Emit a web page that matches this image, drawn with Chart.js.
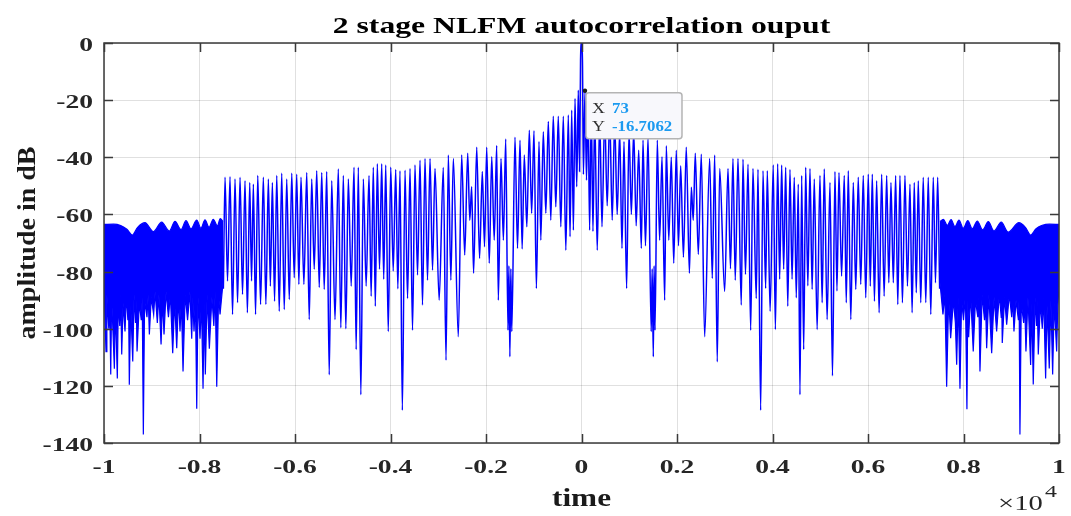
<!DOCTYPE html>
<html>
<head>
<meta charset="utf-8">
<style>
  html, body { margin: 0; padding: 0; background: #ffffff; }
  canvas { display: block; }
</style>
<script src="https://cdn.jsdelivr.net/npm/chart.js@4.4.1/dist/chart.umd.min.js"></script>
</head>
<body>
<canvas id="chart" width="1071" height="516"></canvas>
<script>
// ---- axis ticks (time in samples, shown in units of 1e4) ----
const xTickValues = [-10000, -8000, -6000, -4000, -2000, 0, 2000, 4000, 6000, 8000, 10000];
const xTickLabels = ['-1', '-0.8', '-0.6', '-0.4', '-0.2', '0', '0.2', '0.4', '0.6', '0.8', '1'];
const yTickValues = [0, -20, -40, -60, -80, -100, -120, -140];
const yTickLabels = ['0', '-20', '-40', '-60', '-80', '-100', '-120', '-140'];

// ---- outer (|t| > 7500) dense region: upper scalloped envelope and ragged floor ----
const leftBandTop = [[-10000,-63.5],[-9800,-63.4],[-9650,-63.9],[-9520,-65.2],[-9407,-67.2],[-9300,-64.6],[-9141,-62.9],[-8967,-66],[-8792,-62.7],[-8633,-65.8],[-8513,-62.4],[-8387,-65.3],[-8283,-62.2],[-8178,-65],[-8059,-62],[-7969,-64.8],[-7885,-61.9],[-7801,-64.5],[-7711,-61.7],[-7627,-64],[-7565,-61.5],[-7508,-62.5]];
const leftBandBottom = [[-10000,-84],[-9980,-96],[-9958,-108],[-9940,-88],[-9900,-100],[-9880,-90],[-9859,-116],[-9840,-89],[-9783,-114],[-9760,-92],[-9721,-117.4],[-9700,-90],[-9670,-99],[-9650,-88],[-9629,-109],[-9600,-91],[-9560,-101],[-9530,-88],[-9500,-97],[-9485,-90],[-9470,-119.6],[-9440,-92],[-9398,-111.5],[-9370,-88],[-9340,-98],[-9325,-90],[-9308,-108],[-9260,-91],[-9220,-97],[-9200,-89],[-9176,-137],[-9150,-90],[-9100,-96],[-9075,-88],[-9050,-102],[-9010,-89],[-8960,-95],[-8930,-87],[-8883,-98],[-8850,-88],[-8805,-105.5],[-8775,-90],[-8743,-102],[-8700,-87],[-8650,-96],[-8610,-88],[-8561,-108.6],[-8520,-90],[-8477,-106.8],[-8440,-89],[-8408,-101],[-8380,-90],[-8345,-115],[-8300,-88],[-8250,-97],[-8200,-87],[-8163,-103.5],[-8140,-89],[-8115,-101],[-8085,-90],[-8058,-128],[-8030,-89],[-7989,-103.5],[-7960,-90],[-7926,-121],[-7900,-91],[-7878,-116],[-7840,-88],[-7794,-107],[-7740,-89],[-7700,-99],[-7670,-87],[-7639,-120.3],[-7600,-88],[-7570,-95],[-7508,-84]];
const rightBandTop = [[7508,-62.5],[7577,-61.7],[7660,-63.8],[7740,-61.8],[7821,-64.3],[7905,-62],[7995,-64.8],[8090,-62.2],[8184,-65],[8290,-62.3],[8401,-65.4],[8520,-62.5],[8638,-65.8],[8790,-62.7],[8937,-66.2],[9160,-62.9],[9300,-64.6],[9406,-67.2],[9520,-65],[9650,-63.8],[9800,-63.4],[10000,-63.5]];
const rightBandBottom = [[7508,-84],[7570,-95],[7610,-88],[7647,-120.3],[7690,-89],[7731,-103.3],[7790,-90],[7830,-98],[7857,-112.6],[7890,-89],[7926,-121],[7960,-90],[8000,-97],[8040,-88],[8072,-128.2],[8090,-90],[8108,-103],[8150,-88],[8204,-108],[8250,-90],[8300,-96],[8320,-89],[8345,-115],[8390,-88],[8440,-97],[8460,-90],[8485,-106.8],[8530,-88],[8590,-108.6],[8640,-89],[8694,-101],[8750,-88],[8790,-96],[8800,-90],[8812,-105],[8860,-89],[8904,-98.6],[8960,-88],[9010,-96],[9030,-89],[9057,-101],[9100,-90],[9150,-97],[9165,-89],[9182,-137],[9210,-91],[9260,-98],[9280,-90],[9308,-108],[9350,-89],[9406,-112.7],[9430,-91],[9461,-119.5],[9500,-89],[9530,-99],[9545,-90],[9566,-109],[9610,-91],[9650,-100],[9680,-89],[9720,-117.4],[9750,-92],[9796,-113.9],[9830,-90],[9867,-116],[9900,-91],[9930,-101],[9951,-108],[9975,-92],[10000,-85]];

// ---- sidelobe structure for |t| < 7500: lobe peaks and the nulls between them ----
const leftSidelobes = [[-7500,-86],
[-7465,-47.0],[-7413,-83.3],[-7361,-46.8],[-7308,-95],[-7256,-47.6],[-7203,-90.9],[-7151,-47.0],[-7099,-88],
[-7047,-48.2],[-6997,-94.4],[-6948,-48.8],[-6910,-83.3],[-6872,-49.4],[-6826,-95],[-6780,-46.4],[-6721,-91.5],
[-6663,-47.0],[-6610,-91.5],[-6558,-47.6],[-6516,-85.1],[-6474,-48.8],[-6428,-90.4],[-6382,-46.4],[-6330,-93.9],
[-6278,-45.6],[-6225,-93.3],[-6173,-47.6],[-6120,-89.8],[-6068,-45.6],[-6016,-82.2],[-5964,-45.9],[-5919,-84.5],
[-5874,-47.0],[-5814,-84.5],[-5754,-45.3],[-5702,-96.8],[-5650,-47.6],[-5597,-79.2],[-5545,-44.7],[-5492,-85.6],
[-5440,-45.3],[-5388,-86.3],[-5336,-45.0],[-5283,-116.1],[-5231,-48.2],[-5162,-96.8],[-5093,-44.1],[-5040,-99.7],
[-4988,-46.4],[-4935,-100],[-4883,-47.6],[-4823,-85.1],[-4764,-43.5],[-4719,-107.3],[-4674,-43.5],[-4621,-123.1],
[-4569,-47.6],[-4510,-85.1],[-4450,-46.4],[-4405,-88.6],[-4360,-43.5],[-4318,-92.1],[-4276,-42.3],[-4230,-79.2],
[-4184,-42.3],[-4142,-82.7],[-4100,-42.7],[-4047,-101],[-3995,-43.5],[-3943,-79.8],[-3891,-44.3],[-3846,-86],
[-3801,-44.7],[-3752,-128.5],[-3696,-44.5],[-3643,-89.4],[-3591,-43.9],[-3539,-100.5],[-3487,-42.7],[-3434,-81.2],
[-3382,-41.0],[-3330,-91.7],[-3277,-40.4],[-3225,-83],[-3172,-40.4],[-3120,-79.5],[-3068,-43.9],[-2981,-90],
[-2894,-43.6],[-2837,-111],[-2789,-39.2],[-2736,-83],[-2684,-40.4],[-2580,-102.8],[-2509,-39.2],[-2446,-74.2],
[-2383,-38.6],[-2340,-62],[-2300,-50.3],[-2260,-80.6],[-2194,-36.5],[-2135,-75.4],[-2077,-45.0],[-2031,-71.3],[-1985,-36.5],[-1932,-77.1],
[-1880,-39.8],[-1828,-69],[-1776,-35.9],[-1742,-90],[-1686,-40.4],[-1636,-69],
[-1587,-33.6],[-1540,-100.5],[-1520,-78],[-1500,-109.8],[-1480,-79],[-1460,-101],
[-1393,-33.0],[-1340,-71.9],[-1288,-34.0],[-1243,-72.1],[-1198,-39.2],[-1145,-64.3],[-1093,-30.5],[-1044,-59.6],
[-995,-30.7],[-945,-85.9],[-890,-34.5],[-852,-69],[-800,-31.1],[-747,-59.6],[-695,-27.5],[-643,-62],
[-591,-25.6],[-538,-57.3],[-486,-25.6],[-433,-64.3],[-381,-25.6],[-328,-72.5],[-276,-25.2],[-240,-67.8],
[-205,-23.5],[-170,-65.5],[-136,-19.4],[-100,-50.3],[-67,-16.5],[-40,-45]];

const mainLobe = [[-20,-6],[0,0],[20,-6]];

// data cursor sample (sample index, level in dB)
const cursorPoint = [73, -16.7062];

const rightSidelobes = [[40,-46], cursorPoint,
[105,-48],[136,-19.4],[170,-65.5],[205,-23.5],[240,-66],[276,-25.2],[330,-72.5],[381,-25.6],[429,-64.3],
[486,-25.6],[538,-57],[591,-25.6],[643,-62],[695,-27.5],[747,-60],[800,-31.1],[848,-71.9],[890,-34.5],[945,-85.9],
[995,-30.7],[1044,-60],[1093,-30.5],[1145,-64],[1198,-37.5],[1253,-71.9],[1288,-34],[1340,-71],
[1393,-33],[1460,-101],[1480,-79],[1504,-109.8],[1520,-78],[1540,-100.5],
[1587,-34],[1636,-69],[1686,-39.8],[1742,-90],[1776,-36],[1828,-69],[1880,-40],[1932,-77.1],[1985,-37.5],[2031,-71],
[2077,-43],[2135,-75],[2194,-36.5],[2260,-80.6],[2300,-50.5],[2340,-62],[2383,-38.6],[2446,-74],[2509,-38.9],[2579,-102.8],[2684,-40.4],[2739,-82.4],
[2789,-39.2],[2843,-111.6],[2894,-43.9],[2998,-87],[3068,-43.9],[3120,-79],[3172,-40.4],[3220,-83],[3277,-40.4],[3346,-91.7],
[3382,-40.7],[3434,-81],[3487,-42.4],[3543,-100.5],[3591,-43.9],[3660,-89.4],[3696,-44.2],[3752,-128.5],[3801,-44.7],[3857,-85.9],
[3891,-44.7],[3950,-93.9],[4016,-42.7],[4060,-100.3],[4108,-42.3],[4150,-82.7],[4192,-42.7],[4234,-79.2],[4276,-43.5],[4320,-92.1],
[4366,-44.3],[4410,-82.7],[4456,-47.0],[4498,-89.2],[4540,-49.4],[4575,-123.1],[4611,-46.4],[4653,-107.3],[4695,-43.5],[4740,-85],
[4785,-43.9],[4830,-86.3],[4875,-47.6],[4935,-100.3],[4994,-46.4],[5040,-90.9],[5084,-44.1],[5144,-96.8],[5204,-48.8],[5256,-116.5],
[5308,-45.0],[5350,-86.8],[5392,-45.3],[5447,-81.6],[5503,-46.4],[5545,-90.9],[5587,-44.7],[5640,-96.8],[5692,-48.8],[5744,-86.3],
[5796,-47.0],[5848,-84.5],[5901,-46.4],[5953,-89.2],[6006,-45.9],[6048,-85.1],[6090,-45.9],[6135,-90.4],[6181,-48.2],[6233,-94.4],
[6286,-45.9],[6338,-88.6],[6391,-46.4],[6436,-83.9],[6481,-48.8],[6530,-83.9],[6579,-46.4],[6624,-91.5],[6669,-46.4],[6721,-90.9],
[6774,-46.4],[6826,-85.1],[6879,-49.4],[6924,-94.4],[6969,-48.8],[7011,-87.4],[7053,-48.2],[7105,-90.9],[7157,-47.0],[7210,-90.9],
[7262,-47.0],[7315,-95],[7367,-47.0],[7413,-83.9],[7459,-47.0],[7500,-86]];

// ---- drawing ----
const BLUE = '#0000ff';
const SERIF = "'Liberation Serif', 'Times New Roman', serif";
const toXY = arr => arr.map(p => ({ x: p[0], y: p[1] }));

const trace = [...leftSidelobes, ...mainLobe, ...rightSidelobes];

function stretchedText(ctx, s, x, y, font, color, sx, align) {
  ctx.save();
  ctx.translate(x, y);
  ctx.scale(sx, 1);
  ctx.font = font;
  ctx.fillStyle = color;
  ctx.textAlign = align;
  ctx.textBaseline = 'alphabetic';
  ctx.fillText(s, 0, 0);
  ctx.restore();
}

const matlabFrame = {
  id: 'matlabFrame',
  beforeDraw(chart) {
    const ctx = chart.ctx;
    ctx.save();
    ctx.fillStyle = '#ffffff';
    ctx.fillRect(0, 0, chart.width, chart.height);
    ctx.restore();
  },
  afterDatasetsDraw(chart) {
    const ctx = chart.ctx;
    const { left, right, top, bottom } = chart.chartArea;
    const xs = chart.scales.x, ys = chart.scales.y;
    ctx.save();
    // axes box
    ctx.strokeStyle = '#3a3a3a';
    ctx.lineWidth = 1.5;
    ctx.strokeRect(left, top, right - left, bottom - top);
    // inward tick marks on all four sides
    const tl = 9;
    ctx.beginPath();
    xTickValues.forEach(v => {
      const px = Math.round(xs.getPixelForValue(v)) + 0.5;
      ctx.moveTo(px, bottom); ctx.lineTo(px, bottom - tl);
      ctx.moveTo(px, top); ctx.lineTo(px, top + tl);
    });
    yTickValues.forEach(v => {
      const py = Math.round(ys.getPixelForValue(v)) + 0.5;
      ctx.moveTo(left, py); ctx.lineTo(left + tl, py);
      ctx.moveTo(right, py); ctx.lineTo(right - tl, py);
    });
    ctx.stroke();

    // data tip anchored on the cursor sample
    const cx = xs.getPixelForValue(cursorPoint[0]);
    const cy = ys.getPixelForValue(cursorPoint[1]);
    const bx = cx + 1, by = cy + 2, bw = 96, bh = 46;
    ctx.fillStyle = '#f8f8fc';
    ctx.strokeStyle = '#b4b4b4';
    ctx.lineWidth = 1.5;
    ctx.beginPath();
    ctx.roundRect(bx, by, bw, bh, 3);
    ctx.fill();
    ctx.stroke();
    ctx.fillStyle = '#1a1a1a';
    ctx.beginPath();
    ctx.arc(cx, cy, 2.2, 0, Math.PI * 2);
    ctx.fill();
    const tipFont = `15px ${SERIF}`;
    const valFont = `bold 15px ${SERIF}`;
    stretchedText(ctx, 'X', bx + 6, by + 20, tipFont, '#303030', 1.2, 'left');
    stretchedText(ctx, String(cursorPoint[0]), bx + 26, by + 20, valFont, '#1b9af0', 1.12, 'left');
    stretchedText(ctx, 'Y', bx + 6, by + 38, tipFont, '#303030', 1.2, 'left');
    stretchedText(ctx, String(cursorPoint[1]), bx + 26, by + 38, valFont, '#1b9af0', 1.12, 'left');
    ctx.restore();
  },
  afterDraw(chart) {
    const ctx = chart.ctx;
    const { left, right, top, bottom } = chart.chartArea;
    const xs = chart.scales.x, ys = chart.scales.y;
    const tickFont = `bold 19px ${SERIF}`;
    xTickValues.forEach((v, i) => {
      stretchedText(ctx, xTickLabels[i], xs.getPixelForValue(v), bottom + 30, tickFont, '#262626', 1.45, 'center');
    });
    yTickValues.forEach((v, i) => {
      stretchedText(ctx, yTickLabels[i], left - 11, ys.getPixelForValue(v) + 8, tickFont, '#262626', 1.45, 'right');
    });
    // title
    stretchedText(ctx, '2 stage NLFM autocorrelation ouput', (left + right) / 2, 33, `bold 24px ${SERIF}`, '#000000', 1.32, 'center');
    // x-axis label
    stretchedText(ctx, 'time', (left + right) / 2, 506, `bold 25px ${SERIF}`, '#1a1a1a', 1.25, 'center');
    // exponent of the x axis
    stretchedText(ctx, '\u00d710', 998, 510, `22px ${SERIF}`, '#262626', 1.3, 'left');
    stretchedText(ctx, '4', 1045, 497, `17px ${SERIF}`, '#262626', 1.4, 'left');
    // y-axis label
    ctx.save();
    ctx.translate(34.5, (top + bottom) / 2);
    ctx.rotate(-Math.PI / 2);
    ctx.scale(1.12, 1);
    ctx.font = `bold 25px ${SERIF}`;
    ctx.fillStyle = '#1a1a1a';
    ctx.textAlign = 'center';
    ctx.textBaseline = 'alphabetic';
    ctx.fillText('amplitude in dB', 0, 0);
    ctx.restore();
  }
};

const bandStyle = { borderColor: BLUE, borderWidth: 1.2, pointRadius: 0, tension: 0 };

new Chart(document.getElementById('chart'), {
  type: 'line',
  data: {
    datasets: [
      { ...bandStyle, data: toXY(leftBandTop), cubicInterpolationMode: 'monotone', fill: false },
      { ...bandStyle, data: toXY(leftBandBottom), fill: '-1', backgroundColor: BLUE },
      { ...bandStyle, data: toXY(rightBandTop), cubicInterpolationMode: 'monotone', fill: false },
      { ...bandStyle, data: toXY(rightBandBottom), fill: '-1', backgroundColor: BLUE },
      { data: toXY(trace), borderColor: BLUE, borderWidth: 1.5, pointRadius: 0,
        cubicInterpolationMode: 'monotone', fill: false }
    ]
  },
  options: {
    responsive: false,
    devicePixelRatio: 1,
    animation: false,
    parsing: false,
    normalized: true,
    layout: { padding: { left: 104, right: 12, top: 43, bottom: 73 } },
    plugins: { legend: { display: false }, tooltip: { enabled: false }, title: { display: false } },
    scales: {
      x: {
        type: 'linear', min: -10000, max: 10000,
        ticks: { stepSize: 2000, display: false },
        grid: { color: 'rgba(0,0,0,0.12)', lineWidth: 1, drawTicks: false },
        border: { display: false }
      },
      y: {
        type: 'linear', min: -140, max: 0,
        ticks: { stepSize: 20, display: false },
        grid: { color: 'rgba(0,0,0,0.12)', lineWidth: 1, drawTicks: false },
        border: { display: false }
      }
    }
  },
  plugins: [matlabFrame]
});
</script>
</body>
</html>
